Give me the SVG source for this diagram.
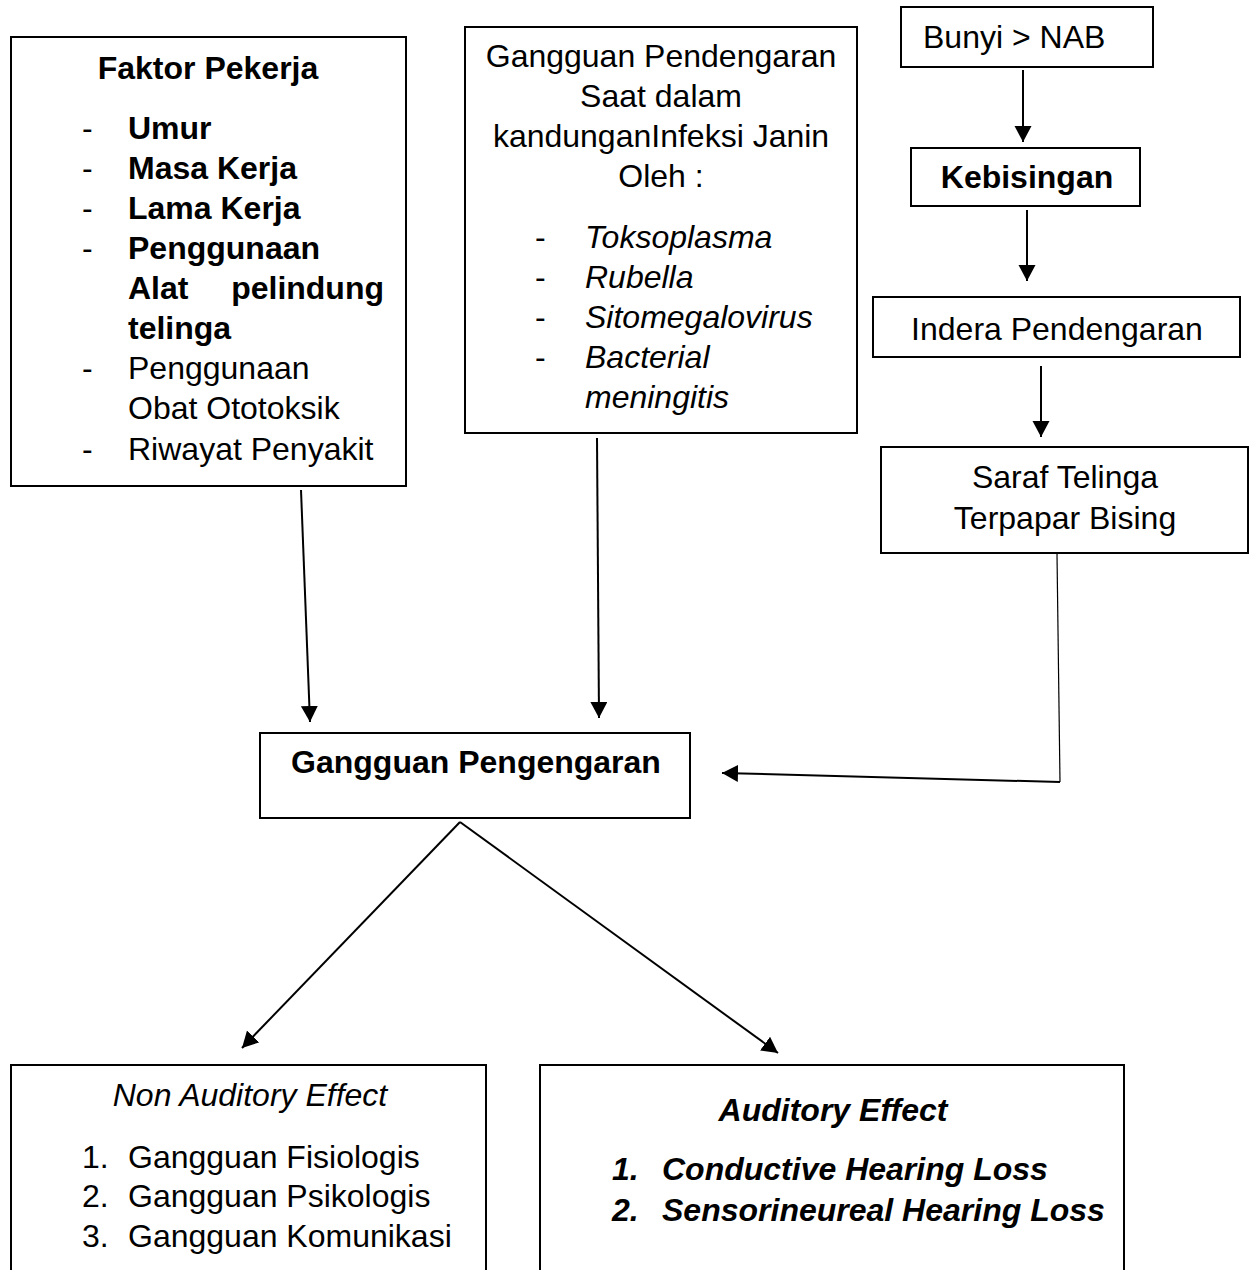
<svg xmlns="http://www.w3.org/2000/svg" width="1256" height="1270" viewBox="0 0 1256 1270">
<style>
.box{fill:#fff;stroke:#000;stroke-width:2}
.t{font-family:"Liberation Sans",Arial,Helvetica,sans-serif;font-size:32px;fill:#000}
.b{font-weight:bold}
.i{font-style:italic}
.c{text-anchor:middle}
.e{text-anchor:end}
.conn{stroke:#000;stroke-width:2;fill:none}
.thin{stroke:#000;stroke-width:1.2;fill:none}
</style>
<defs>
<marker id="ah" markerUnits="userSpaceOnUse" markerWidth="19" markerHeight="19" refX="16" refY="8.5" orient="auto">
<path d="M0,0 L16,8.5 L0,17 Z" fill="#000"/>
</marker>
</defs>
<rect width="1256" height="1270" fill="#fff"/>

<g id="faktor-pekerja">
<rect class="box" x="11" y="37" width="395" height="449"/>
<text class="t b c" x="208" y="79">Faktor Pekerja</text>
<text class="t" x="82" y="139">-</text><text class="t b" x="128" y="139">Umur</text>
<text class="t" x="82" y="179">-</text><text class="t b" x="128" y="179">Masa Kerja</text>
<text class="t" x="82" y="219">-</text><text class="t b" x="128" y="219">Lama Kerja</text>
<text class="t" x="82" y="259">-</text><text class="t b" x="128" y="259">Penggunaan</text>
<text class="t b" x="128" y="299">Alat</text><text class="t b e" x="384" y="299">pelindung</text>
<text class="t b" x="128" y="339">telinga</text>
<text class="t" x="82" y="379">-</text><text class="t" x="128" y="379">Penggunaan</text>
<text class="t" x="128" y="419">Obat Ototoksik</text>
<text class="t" x="82" y="460">-</text><text class="t" x="128" y="460">Riwayat Penyakit</text>
</g>

<g id="gangguan-kandungan">
<rect class="box" x="465" y="27" width="392" height="406"/>
<text class="t c" x="661" y="67">Gangguan Pendengaran</text>
<text class="t c" x="661" y="107">Saat dalam</text>
<text class="t c" x="661" y="147">kandunganInfeksi Janin</text>
<text class="t c" x="661" y="187">Oleh :</text>
<text class="t" x="535" y="248">-</text><text class="t i" x="585" y="248">Toksoplasma</text>
<text class="t" x="535" y="288">-</text><text class="t i" x="585" y="288">Rubella</text>
<text class="t" x="535" y="328">-</text><text class="t i" x="585" y="328">Sitomegalovirus</text>
<text class="t" x="535" y="368">-</text><text class="t i" x="585" y="368">Bacterial</text>
<text class="t i" x="585" y="408">meningitis</text>
</g>

<g id="bunyi-nab">
<rect class="box" x="901" y="7" width="252" height="60"/>
<text class="t" x="923" y="48">Bunyi &gt; NAB</text>
</g>

<g id="kebisingan">
<rect class="box" x="911" y="148" width="229" height="58"/>
<text class="t b c" x="1027" y="188">Kebisingan</text>
</g>

<g id="indera-pendengaran">
<rect class="box" x="873" y="297" width="367" height="60"/>
<text class="t c" x="1057" y="340">Indera Pendengaran</text>
</g>

<g id="saraf-telinga">
<rect class="box" x="881" y="447" width="367" height="106"/>
<text class="t c" x="1065" y="488">Saraf Telinga</text>
<text class="t c" x="1065" y="529">Terpapar Bising</text>
</g>

<g id="gangguan-pengengaran">
<rect class="box" x="260" y="733" width="430" height="85"/>
<text class="t b c" x="476" y="773">Gangguan Pengengaran</text>
</g>

<g id="non-auditory">
<rect class="box" x="11" y="1065" width="475" height="220"/>
<text class="t i c" x="250" y="1106">Non Auditory Effect</text>
<text class="t" x="82" y="1168">1.</text><text class="t" x="128" y="1168">Gangguan Fisiologis</text>
<text class="t" x="82" y="1207">2.</text><text class="t" x="128" y="1207">Gangguan Psikologis</text>
<text class="t" x="82" y="1247">3.</text><text class="t" x="128" y="1247">Gangguan Komunikasi</text>
</g>

<g id="auditory">
<rect class="box" x="540" y="1065" width="584" height="220"/>
<text class="t b i c" x="833" y="1121">Auditory Effect</text>
<text class="t b i" x="612" y="1180">1.</text><text class="t b i" x="662" y="1180">Conductive Hearing Loss</text>
<text class="t b i" x="612" y="1221">2.</text><text class="t b i" x="662" y="1221">Sensorineureal Hearing Loss</text>
</g>

<g id="connectors">
<line class="conn" x1="1023" y1="70" x2="1023" y2="142" marker-end="url(#ah)"/>
<line class="conn" x1="1027" y1="210" x2="1027" y2="281" marker-end="url(#ah)"/>
<line class="conn" x1="1041" y1="366" x2="1041" y2="437" marker-end="url(#ah)"/>
<line class="conn" x1="301" y1="490" x2="310" y2="722" marker-end="url(#ah)"/>
<line class="conn" x1="597" y1="438" x2="599" y2="718" marker-end="url(#ah)"/>
<polyline class="thin" points="1057,554 1060,782"/>
<line class="conn" x1="1060" y1="782" x2="722" y2="773" marker-end="url(#ah)"/>
<line class="conn" x1="460" y1="822" x2="242" y2="1048" marker-end="url(#ah)"/>
<line class="conn" x1="460" y1="822" x2="778" y2="1053" marker-end="url(#ah)"/>
</g>
</svg>
